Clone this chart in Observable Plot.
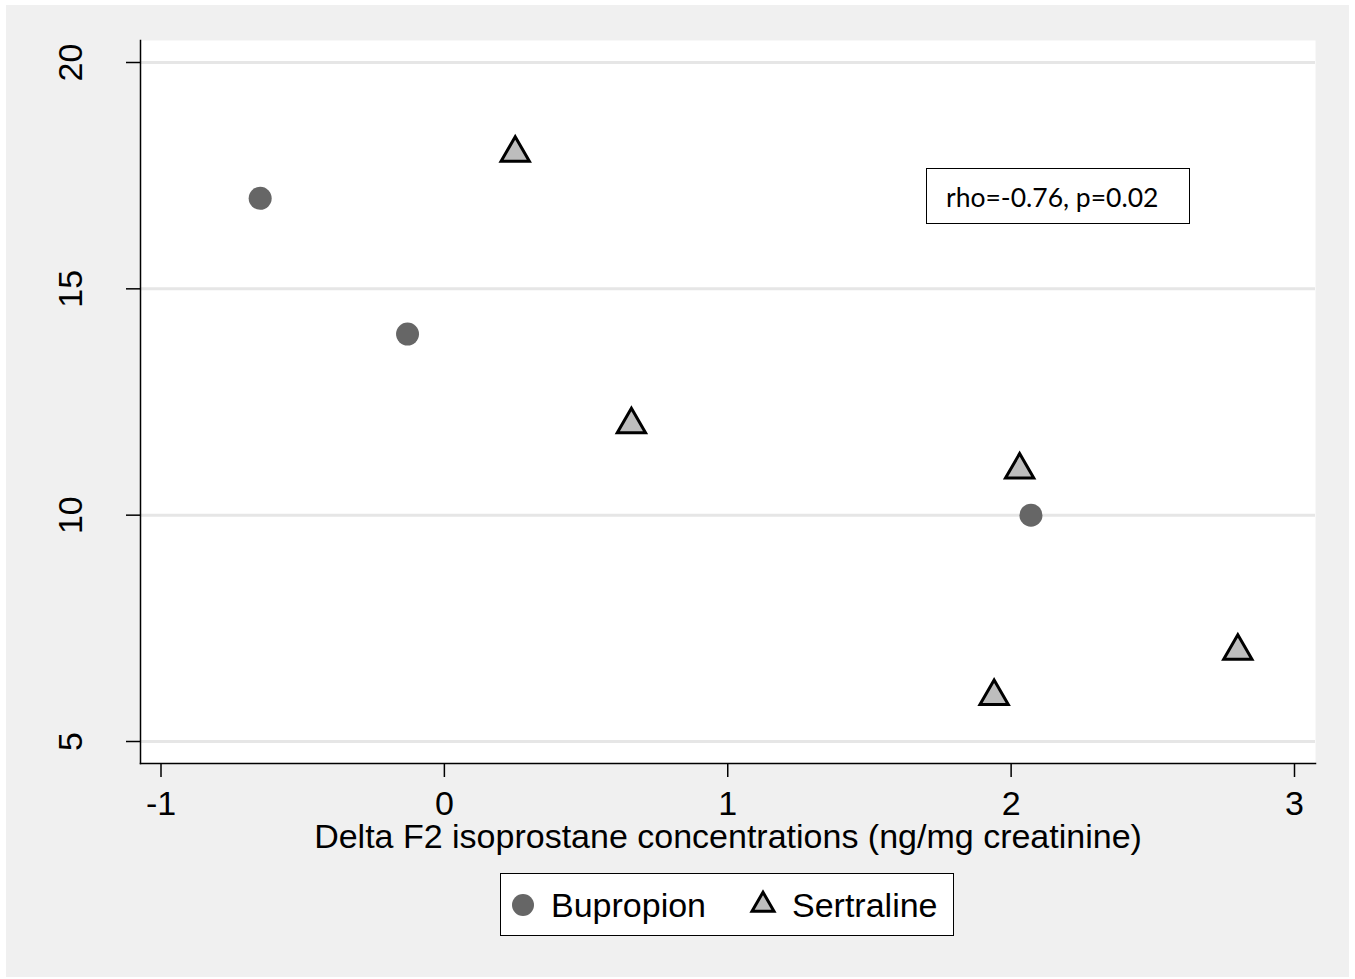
<!DOCTYPE html>
<html>
<head>
<meta charset="utf-8">
<script src="https://cdn.jsdelivr.net/npm/d3@7"></script>
<script src="https://cdn.jsdelivr.net/npm/@observablehq/plot@0.6"></script>
<style>
  body { margin: 0; background: #ffffff; }
  #wrap { position: absolute; left: 6px; top: 5px; width: 1343px; height: 972px; background: #f0f0f0; overflow: hidden; }
  #chart { position: absolute; left: 0; top: 0; }
  #anno { position: absolute; left: 920px; top: 163px; width: 264px; height: 56px; box-sizing: border-box;
          border: 1.5px solid #000; background: #fff; font-family: Lato, "Open Sans", sans-serif; font-size: 26.5px;
          color: #000; padding-left: 19px; line-height: 56px; white-space: nowrap; }
  #legend { position: absolute; left: 494px; top: 868px; width: 454px; height: 63px; box-sizing: border-box;
            border: 1.5px solid #000; background: #fff; font-family: "Liberation Sans", Arial, sans-serif; font-size: 34px; color: #000; }
  #legend .item { position: absolute; top: 0; height: 62px; line-height: 62px; white-space: nowrap; }
  #legend svg { position: absolute; }
</style>
</head>
<body>
<div id="wrap">
  <div id="chart"></div>
  <div id="anno"></div>
  <div id="legend"></div>
</div>
<script>
// ---- data ----
const seriesNames = ["Bupropion", "Sertraline"];
const bupropionX = [-0.65, -0.13, 2.07];
const bupropionY = [17, 14, 10];
const sertralineX = [0.25, 0.66, 2.03, 1.94, 2.80];
const sertralineY = [18, 12, 11, 6, 7];
const xTicks = [-1, 0, 1, 2, 3];
const yTicks = [5, 10, 15, 20];
const xLabel = "Delta F2 isoprostane concentrations (ng/mg creatinine)";
const annotation = "rho=-0.76, p=0.02";

const bup = bupropionX.map((x, i) => ({x, y: bupropionY[i], group: seriesNames[0]}));
const ser = sertralineX.map((x, i) => ({x, y: sertralineY[i], group: seriesNames[1]}));

const chart = Plot.plot({
  width: 1343,
  height: 860,
  marginLeft: 134,
  marginTop: 35,
  marginRight: 34,
  marginBottom: 102,
  style: {fontFamily: "'Liberation Sans', Arial, sans-serif", background: "transparent", color: "#000"},
  x: {domain: [-1, 3], insetLeft: 20.5, insetRight: 21},
  y: {domain: [5, 20], insetTop: 22, insetBottom: 22},
  marks: [
    Plot.frame({fill: "#ffffff", stroke: null}),
    Plot.gridY(yTicks, {stroke: "#e6e6e6", strokeOpacity: 1, strokeWidth: 3}),
    Plot.frame({anchor: "left", stroke: "#000", strokeWidth: 1.5}),
    Plot.frame({anchor: "bottom", stroke: "#000", strokeWidth: 1.5}),
    Plot.axisY({ticks: yTicks, tickSize: 14, tickRotate: -90, tickPadding: 45, fontSize: 34,
                tickFormat: d => String(d), label: null, strokeWidth: 1.5}),
    Plot.axisX({ticks: xTicks, tickSize: 14, tickPadding: 13, fontSize: 34,
                tickFormat: d => String(d), label: null, strokeWidth: 1.5}),
    Plot.text([xLabel], {text: d => d, frameAnchor: "bottom", lineAnchor: "top", dy: 60, fontSize: 34}),
    Plot.dot(bup, {x: "x", y: "y", r: 11.5, fill: "#666666", stroke: null}),
    Plot.dot(ser, {x: "x", y: "y", symbol: "triangle", r: 10.5, fill: "#bdbdbd", stroke: "#000", strokeWidth: 3})
  ]
});
document.getElementById("chart").appendChild(chart);

document.getElementById("anno").textContent = annotation;

// legend
const legend = document.getElementById("legend");
legend.innerHTML = `
  <svg width="26" height="26" style="left:9px;top:17.5px"><circle cx="13" cy="13" r="11" fill="#666666"/></svg>
  <div class="item" style="left:50px">${seriesNames[0]}</div>
  <svg width="32" height="30" style="left:246px;top:14px"><path d="${d3.symbol(d3.symbolTriangle2, 346)()}" transform="translate(16,17)" fill="#bdbdbd" stroke="#000" stroke-width="3"/></svg>
  <div class="item" style="left:291px">${seriesNames[1]}</div>
`;
</script>
</body>
</html>
